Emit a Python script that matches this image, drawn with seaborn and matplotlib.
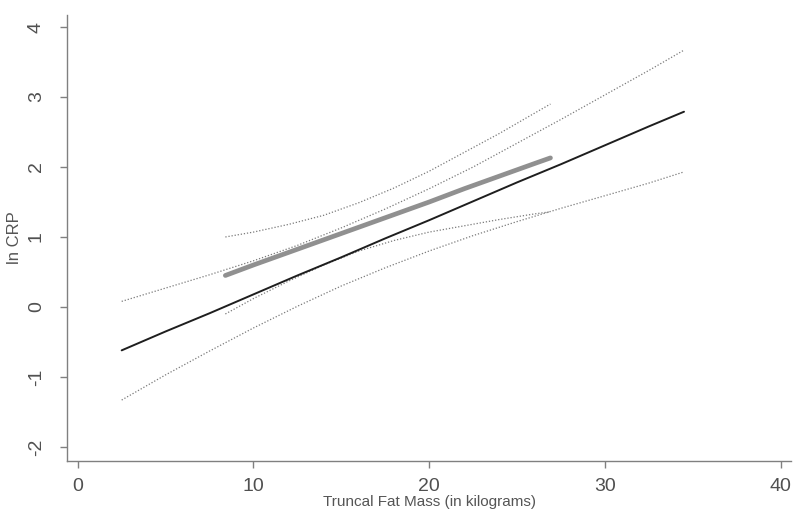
import matplotlib
matplotlib.use("Agg")
import matplotlib.pyplot as plt
import seaborn as sns

# black fitted line (whole sample) with its dotted band
black_x = [2.5, 5, 7.5, 10, 12.5, 15, 17.5, 20, 22.5, 25, 27.5, 30, 32.5, 34.5]
black_fit = [-0.62, -0.35, -0.09, 0.18, 0.45, 0.71, 0.98, 1.24, 1.51, 1.78, 2.04, 2.31, 2.58, 2.79]
black_hi = [0.08, 0.27, 0.46, 0.66, 0.88, 1.13, 1.40, 1.69, 2.00, 2.34, 2.68, 3.03, 3.38, 3.67]
black_lo = [-1.33, -0.97, -0.63, -0.30, 0.01, 0.30, 0.56, 0.80, 1.02, 1.22, 1.41, 1.59, 1.77, 1.93]

# thick gray fitted line with its dotted band
gray_x = [8.4, 10, 12, 14, 16, 18, 20, 22, 24, 26, 26.9]
gray_fit = [0.45, 0.60, 0.78, 0.96, 1.14, 1.32, 1.50, 1.69, 1.87, 2.05, 2.13]
gray_hi = [1.00, 1.07, 1.18, 1.31, 1.49, 1.70, 1.94, 2.21, 2.48, 2.77, 2.90]
gray_lo = [-0.10, 0.12, 0.37, 0.60, 0.80, 0.95, 1.07, 1.16, 1.25, 1.33, 1.36]

x_ticks = [0, 10, 20, 30, 40]
y_ticks = [-2, -1, 0, 1, 2, 3, 4]

sns.set_style("ticks")
plt.rcParams['font.family'] = ['Liberation Sans', 'DejaVu Sans']

fig = plt.figure(figsize=(8, 5.22), dpi=100)
ax = fig.add_axes([0.084, 0.117, 0.905, 0.854])

dot_kw = dict(color="#7a7a7a", linewidth=0.9, linestyle=(0, (1, 1.5)))
sns.lineplot(x=black_x, y=black_hi, ax=ax, **dot_kw)
sns.lineplot(x=black_x, y=black_lo, ax=ax, **dot_kw)
sns.lineplot(x=gray_x, y=gray_hi, ax=ax, **dot_kw)
sns.lineplot(x=gray_x, y=gray_lo, ax=ax, **dot_kw)
sns.lineplot(x=gray_x, y=gray_fit, ax=ax, color="#909090", linewidth=3.4)
sns.lineplot(x=black_x, y=black_fit, ax=ax, color="#1e1e1e", linewidth=1.4)

ax.set_xlim(-0.6, 40.6)
ax.set_ylim(-2.2, 4.17)
ax.set_xticks(x_ticks)
ax.set_yticks(y_ticks)
ax.set_xticklabels([str(v) for v in x_ticks], fontsize=14, color="#505050")
ax.set_yticklabels([str(v) for v in y_ticks], fontsize=14, color="#505050",
                   rotation=90, va="center")
ax.tick_params(axis="x", length=5, width=1, color="#808080", pad=7)
ax.tick_params(axis="y", length=5, width=1, color="#808080", pad=11)

ax.set_xlabel("Truncal Fat Mass (in kilograms)", fontsize=11, color="#555555", labelpad=0)
ax.set_ylabel("ln CRP", fontsize=12, color="#555555", labelpad=4)

for side in ["top", "right"]:
    ax.spines[side].set_visible(False)
for side in ["left", "bottom"]:
    ax.spines[side].set_color("#808080")
    ax.spines[side].set_linewidth(1.0)

fig.savefig("out.png", dpi=100)
